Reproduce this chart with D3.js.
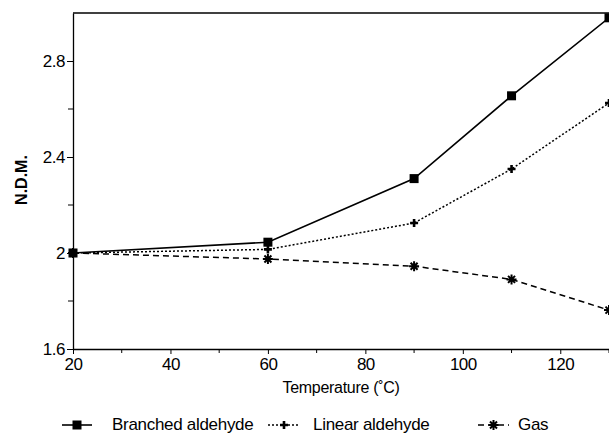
<!DOCTYPE html>
<html>
<head>
<meta charset="utf-8">
<script src="https://cdn.jsdelivr.net/npm/d3@7"></script>
<style>
  body { margin: 0; background: #fff; }
  svg { display: block; font-family: "Liberation Sans", Arial, sans-serif; }
</style>
</head>
<body>
<svg id="chart"></svg>
<script>
// data
const temps = [20, 60, 90, 110, 130]
const branched = [2.0, 2.045, 2.31, 2.655, 2.98]
const linear = [2.0, 2.015, 2.125, 2.35, 2.625]
const gas = [2.0, 1.975, 1.945, 1.89, 1.762]

const seriesNames = ['Branched aldehyde', 'Linear aldehyde', 'Gas']
const xTicks = [20, 40, 60, 80, 100, 120]
const xMinor = [30, 50, 70, 90, 110, 130]
const yTicks = [1.6, 2.0, 2.4, 2.8]
const yMinor = [1.8, 2.2, 2.6]
const yTickLabels = ['1.6', '2', '2.4', '2.8']

const width = 609, height = 435
const margin = {top: 13, right: 0, bottom: 86, left: 73}
const w = width - margin.left - margin.right
const h = height - margin.top - margin.bottom

const svg = d3.select('#chart')
    .attr('width', width)
    .attr('height', height)

const g = svg.append('g')
    .attr('transform', 'translate(' + margin.left + ',' + margin.top + ')')

const x = d3.scaleLinear().domain([20, 130]).range([0, w])
const y = d3.scaleLinear().domain([1.6, 3.0]).range([h, 0])

// axes
const xAxis = g.append('g')
    .attr('transform', 'translate(0,' + h + ')')
    .call(d3.axisBottom(x).tickValues(xTicks).tickSize(5).tickPadding(4).tickSizeOuter(0))
xAxis.append('g').selectAll('line')
    .data(xMinor).join('line')
    .attr('x1', d => x(d)).attr('x2', d => x(d))
    .attr('y1', 0).attr('y2', 4)
    .attr('stroke', '#000')

const yAxis = g.append('g')
    .call(d3.axisLeft(y).tickValues(yTicks).tickSize(6).tickPadding(2).tickSizeOuter(0)
        .tickFormat((d, i) => yTickLabels[i]))
yAxis.append('g').selectAll('line')
    .data(yMinor).join('line')
    .attr('x1', 0).attr('x2', -5)
    .attr('y1', d => y(d)).attr('y2', d => y(d))
    .attr('stroke', '#000')

g.selectAll('.domain').attr('stroke', '#000').attr('stroke-width', 1.3)
g.selectAll('.tick line').attr('stroke', '#000')
g.selectAll('.tick text')
    .attr('font-size', '17px')
    .attr('fill', '#000')
    .attr('letter-spacing', '-0.5px')
    .attr('font-family', '"Liberation Sans", Arial, sans-serif')

// top border
g.append('line')
    .attr('x1', 0).attr('x2', w)
    .attr('y1', 0).attr('y2', 0)
    .attr('stroke', '#000').attr('stroke-width', 1.3)

// series
const rows = [branched, linear, gas].map(vals => temps.map((t, i) => ({t: t, v: vals[i]})))
const dashes = [null, '2,2', '6,4']
const line = d3.line().x(d => x(d.t)).y(d => y(d.v))

function marker(sel, k) {
    if (k === 0) {
        sel.append('rect')
            .attr('x', -4.5).attr('y', -4.5).attr('width', 9).attr('height', 9)
            .attr('fill', '#000')
    } else if (k === 1) {
        sel.append('path')
            .attr('d', 'M-4,0H4M0,-4V4')
            .attr('stroke', '#000').attr('stroke-width', 2.6)
    } else {
        sel.append('path')
            .attr('d', 'M-5,0H5M0,-5V5M-3.5,-3.5L3.5,3.5M-3.5,3.5L3.5,-3.5')
            .attr('stroke', '#000').attr('stroke-width', 2)
    }
}

rows.forEach((data, k) => {
    g.append('path')
        .datum(data)
        .attr('fill', 'none')
        .attr('stroke', '#000')
        .attr('stroke-width', k === 0 ? 1.6 : 1.5)
        .attr('stroke-dasharray', dashes[k])
        .attr('d', line)
    data.forEach(d => {
        const m = g.append('g').attr('transform', 'translate(' + x(d.t) + ',' + y(d.v) + ')')
        marker(m, k)
    })
})

// axis titles
svg.append('text')
    .attr('x', margin.left + w / 2)
    .attr('y', 393)
    .attr('text-anchor', 'middle')
    .attr('font-size', '16px')
    .attr('letter-spacing', '-0.3px')
    .text('Temperature (\u02daC)')

svg.append('text')
    .attr('transform', 'translate(27,180) rotate(-90)')
    .attr('text-anchor', 'middle')
    .attr('font-size', '16px')
    .attr('font-weight', 'bold')
    .text('N.D.M.')

// legend
const legendPos = [
    {x1: 62, x2: 92, tx: 112},
    {x1: 268, x2: 300, tx: 313},
    {x1: 478, x2: 509, tx: 518}
]
const ly = 425
seriesNames.forEach((name, k) => {
    const p = legendPos[k]
    svg.append('line')
        .attr('x1', p.x1).attr('x2', p.x2)
        .attr('y1', ly).attr('y2', ly)
        .attr('stroke', '#000')
        .attr('stroke-width', 1.6)
        .attr('stroke-dasharray', dashes[k])
    const m = svg.append('g').attr('transform', 'translate(' + (p.x1 + p.x2) / 2 + ',' + ly + ')')
    marker(m, k)
    svg.append('text')
        .attr('x', p.tx)
        .attr('y', 430)
        .attr('font-size', '17px')
        .attr('letter-spacing', '-0.3px')
        .text(name)
})
</script>
</body>
</html>
